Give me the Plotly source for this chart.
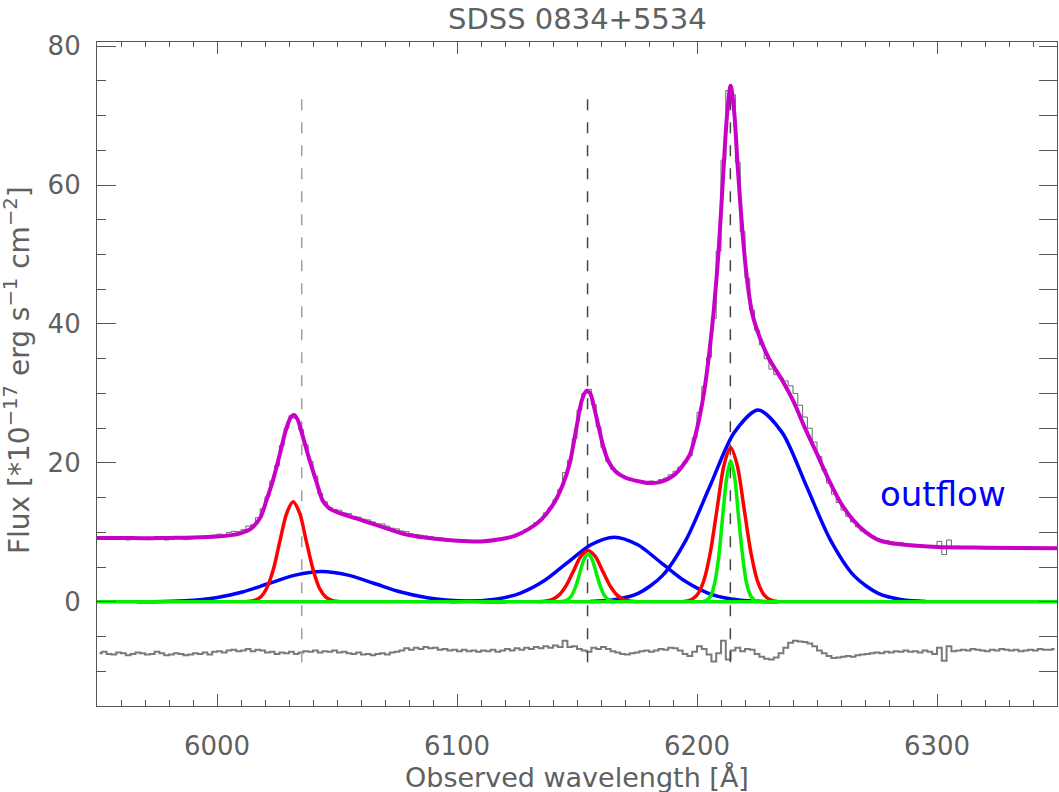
import plotly.graph_objects as go

# ---------------- data ----------------
wave_bins = [
    5951, 5953, 5955, 5957, 5959, 5961, 5963, 5965, 5967, 5969,
    5971, 5973, 5975, 5977, 5979, 5981, 5983, 5985, 5987, 5989,
    5991, 5993, 5995, 5997, 5999, 6001, 6003, 6005, 6007, 6009,
    6011, 6013, 6015, 6017, 6019, 6021, 6023, 6025, 6027, 6029,
    6031, 6033, 6035, 6037, 6039, 6041, 6043, 6045, 6047, 6049,
    6051, 6053, 6055, 6057, 6059, 6061, 6063, 6065, 6067, 6069,
    6071, 6073, 6075, 6077, 6079, 6081, 6083, 6085, 6087, 6089,
    6091, 6093, 6095, 6097, 6099, 6101, 6103, 6105, 6107, 6109,
    6111, 6113, 6115, 6117, 6119, 6121, 6123, 6125, 6127, 6129,
    6131, 6133, 6135, 6137, 6139, 6141, 6143, 6145, 6147, 6149,
    6151, 6153, 6155, 6157, 6159, 6161, 6163, 6165, 6167, 6169,
    6171, 6173, 6175, 6177, 6179, 6181, 6183, 6185, 6187, 6189,
    6191, 6193, 6195, 6197, 6199, 6201, 6203, 6205, 6207, 6209,
    6211, 6213, 6215, 6217, 6219, 6221, 6223, 6225, 6227, 6229,
    6231, 6233, 6235, 6237, 6239, 6241, 6243, 6245, 6247, 6249,
    6251, 6253, 6255, 6257, 6259, 6261, 6263, 6265, 6267, 6269,
    6271, 6273, 6275, 6277, 6279, 6281, 6283, 6285, 6287, 6289,
    6291, 6293, 6295, 6297, 6299, 6301, 6303, 6305, 6307, 6309,
    6311, 6313, 6315, 6317, 6319, 6321, 6323, 6325, 6327, 6329,
    6331, 6333, 6335, 6337, 6339, 6341, 6343, 6345, 6347, 6349,
]

observed_flux = [
    9.2, 9.4, 9.1, 9.0, 9.3, 9.2, 8.9, 9.1, 9.3, 9.15,
    8.95, 9.05, 9.4, 9.2, 8.9, 9.0, 9.2, 9.1, 8.95, 9.05,
    9.25, 9.2, 9.4, 9.15, 9.6, 9.75, 9.6, 10.0, 10.15, 10.1,
    10.4, 10.9, 11.1, 12.1, 13.4, 15.1, 17.4, 19.6, 22.5, 25.0,
    26.8, 26.4, 24.8, 22.6, 20.2, 18.1, 15.6, 14.4, 13.6, 13.3,
    13.2, 12.8, 12.7, 12.3, 12.2, 11.9, 11.8, 11.5, 11.2, 11.2,
    10.9, 10.6, 10.5, 10.2, 10.1, 9.8, 9.7, 9.6, 9.5, 9.4,
    9.2, 9.2, 9.0, 8.9, 8.9, 8.8, 8.7, 8.8, 8.6, 8.7,
    8.6, 8.7, 8.7, 8.9, 9.1, 9.3, 9.4, 9.7, 10.0, 10.4,
    10.8, 11.4, 11.8, 12.8, 13.6, 14.7, 16.2, 18.6, 20.4, 23.5,
    27.6, 30.0, 30.6, 28.4, 25.2, 22.2, 20.2, 19.1, 18.5, 18.1,
    17.7, 17.5, 17.3, 17.4, 17.3, 17.4, 17.3, 17.6, 17.8, 18.3,
    18.8, 19.4, 20.1, 21.0, 23.6, 27.3, 31.0, 35.2, 40.8, 50.5,
    63.6, 73.6, 73.0, 63.3, 53.3, 46.6, 42.0, 39.1, 37.0, 35.0,
    33.5, 32.7, 32.2, 31.8, 31.1, 30.0, 28.3, 26.6, 25.0, 23.0,
    20.9, 19.0, 17.1, 15.5, 14.3, 13.2, 12.3, 11.5, 10.8, 10.2,
    9.8, 9.4, 9.1, 8.8, 8.8, 8.5, 8.4, 8.5, 8.2, 8.3,
    8.1, 8.2, 7.9, 8.0, 7.8, 8.7, 6.8, 8.9, 7.9, 8.0,
    7.9, 7.8, 7.9, 7.8, 7.8, 7.9, 7.7, 7.8, 7.9, 7.8,
    7.7, 7.8, 7.7, 7.8, 7.7, 7.8, 7.7, 7.8, 7.7, 7.8,
]

residual_flux = [
    -7.4, -7.2, -7.5, -7.6, -7.3, -7.4, -7.7, -7.5, -7.3, -7.4,
    -7.6, -7.5, -7.2, -7.4, -7.7, -7.6, -7.4, -7.5, -7.7, -7.6,
    -7.4, -7.5, -7.3, -7.6, -7.2, -7.1, -7.3, -7.0, -6.9, -7.1,
    -7.0, -6.8, -7.1, -6.9, -7.0, -7.3, -7.2, -7.5, -7.3, -7.4,
    -7.2, -7.5, -7.3, -7.1, -7.2, -7.0, -7.3, -7.1, -7.2, -7.0,
    -7.3, -7.2, -7.4, -7.5, -7.3, -7.6, -7.5, -7.7, -7.5, -7.4,
    -7.6, -7.3, -7.2, -7.0, -6.7, -6.9, -6.6, -6.8, -6.5, -6.7,
    -6.6, -6.9, -6.8, -7.0, -6.9, -7.1, -6.9, -7.1, -7.0, -7.2,
    -7.0, -7.1, -6.9, -7.2, -7.0, -6.8, -7.0, -6.7, -6.9, -6.6,
    -6.8, -6.5, -6.7, -6.4, -6.6, -6.3, -6.5, -5.6, -6.5, -6.4,
    -6.8, -7.0, -7.2, -6.6, -6.8, -6.5, -6.8, -7.1, -7.3, -7.5,
    -7.6, -7.4, -7.3, -7.1, -7.0, -7.2, -7.0, -6.8, -6.9, -6.6,
    -6.7, -7.0, -7.5, -7.8, -7.2, -6.4, -6.8, -7.6, -8.6, -7.4,
    -5.6, -8.3, -7.0, -6.6, -7.1, -6.8, -6.9, -7.5, -7.9, -8.2,
    -8.3, -8.0, -7.4, -6.6, -5.9, -5.6, -5.7, -5.8, -6.0, -6.4,
    -7.0, -7.4, -7.8, -8.1, -8.0, -7.9, -7.8, -7.9, -7.7, -7.6,
    -7.5, -7.4, -7.3, -7.4, -7.2, -7.3, -7.1, -7.2, -7.0, -7.2,
    -7.1, -7.3, -7.0, -7.2, -7.5, -6.6, -8.5, -6.4, -7.1, -7.0,
    -6.9, -7.0, -6.8, -6.9, -7.0, -7.1, -6.9, -7.0, -6.8, -6.9,
    -7.0, -6.9, -7.1, -7.0, -6.9, -7.0, -6.8, -6.9, -6.9, -6.8,
]

model_wave = [
    5950, 5960, 5970, 5980, 5990, 6000, 6006, 6010, 6014, 6018,
    6020.7, 6023.4, 6026, 6028.5, 6030.5, 6032, 6033.5, 6036, 6038.5, 6041.5,
    6044, 6047, 6050, 6058, 6066, 6073, 6080, 6090, 6100, 6110,
    6118, 6124, 6130, 6135, 6140, 6144, 6147, 6150, 6152, 6154,
    6155.5, 6157, 6159, 6161, 6163, 6166, 6170, 6175, 6180, 6184,
    6188, 6191, 6194, 6197, 6199, 6201, 6203, 6205, 6207, 6209,
    6211, 6212.5, 6214, 6215.5, 6217, 6219, 6221, 6223, 6226, 6230,
    6235, 6240, 6245, 6250, 6255, 6260, 6265, 6270, 6275, 6280,
    6290, 6300, 6320, 6350,
]
model_flux = [
    9.2, 9.2, 9.15, 9.2, 9.25, 9.4, 9.6, 9.9, 10.5, 12.1,
    14.7, 17.6, 21.0, 24.5, 26.4, 26.9, 26.3, 23.5, 20.5, 17.2,
    14.6, 13.4, 12.9, 12.0, 11.1, 10.3, 9.6, 9.1, 8.8, 8.7,
    9.0, 9.5, 10.5, 11.8, 14.0, 16.8, 20.0, 25.5, 29.0, 30.4,
    30.0, 28.2, 25.2, 22.3, 20.3, 18.8, 17.9, 17.4, 17.1, 17.2,
    17.7, 18.4, 19.6, 21.2, 23.5, 26.5, 30.3, 35.5, 42.0, 50.5,
    62.0, 70.0, 74.3, 70.5, 62.5, 53.0, 46.0, 41.5, 38.2, 35.0,
    32.2, 29.0, 25.0, 21.3, 17.5, 14.2, 11.8, 10.1, 9.0, 8.5,
    8.1, 7.9, 7.8, 7.7,
]

# outflow (broad, blue) components
blue1_wave = [5966.6, 5977.6, 5988.6, 5999.6, 6010.6, 6021.6, 6032.6, 6043.6,
              6054.6, 6065.6, 6076.6, 6087.6, 6098.6, 6109.6, 6120.6]
blue1_flux = [0.01, 0.05, 0.19, 0.59, 1.41, 2.64, 3.84, 4.35,
              3.84, 2.64, 1.41, 0.59, 0.19, 0.05, 0.01]
blue2_wave = [6097.3, 6107.0, 6116.8, 6126.5, 6136.3, 6146.0, 6155.8, 6165.5,
              6175.3, 6185.0, 6194.8, 6204.5, 6214.3, 6224.0, 6233.8]
blue2_flux = [0.02, 0.10, 0.41, 1.26, 3.02, 5.64, 8.21, 9.3,
              8.21, 5.64, 3.02, 1.26, 0.41, 0.10, 0.02]
blue3_wave = [6155.5, 6165.5, 6175.5, 6185.5, 6195.5, 6205.5, 6215.5, 6225.5,
              6235.5, 6245.5, 6255.5, 6265.5, 6275.5, 6285.5, 6295.5]
blue3_flux = [0.06, 0.31, 1.21, 3.73, 8.96, 16.74, 24.36, 27.6,
              24.36, 16.74, 8.96, 3.73, 1.21, 0.31, 0.06]

# narrow (red) components
red1_wave = [6012.5, 6015.2, 6018.0, 6020.7, 6023.5, 6026.2, 6029.0, 6031.7,
             6034.5, 6037.2, 6040.0, 6042.7, 6045.5, 6048.2, 6051.0]
red1_flux = [0.03, 0.16, 0.63, 1.95, 4.68, 8.73, 12.71, 14.4,
             12.71, 8.73, 4.68, 1.95, 0.63, 0.16, 0.03]
red2_wave = [6133.6, 6136.6, 6139.6, 6142.6, 6145.6, 6148.6, 6151.6, 6154.6,
             6157.6, 6160.6, 6163.6, 6166.6, 6169.6, 6172.6, 6175.6]
red2_flux = [0.02, 0.08, 0.32, 1.00, 2.40, 4.49, 6.53, 7.4,
             6.53, 4.49, 2.40, 1.00, 0.32, 0.08, 0.02]
red3_wave = [6194.4, 6197.2, 6200.0, 6202.8, 6205.6, 6208.4, 6211.2, 6214.0,
             6216.8, 6219.6, 6222.4, 6225.2, 6228.0, 6230.8, 6233.6]
red3_flux = [0.05, 0.25, 0.97, 3.00, 7.21, 13.46, 19.59, 22.2,
             19.59, 13.46, 7.21, 3.00, 0.97, 0.25, 0.05]

# narrowest (green) components
green2_wave = [6142.7, 6144.4, 6146.1, 6147.8, 6149.5, 6151.2, 6152.9, 6154.6,
               6156.3, 6158.0, 6159.7, 6161.4, 6163.1, 6164.8, 6166.5]
green2_flux = [0.02, 0.08, 0.30, 0.93, 2.24, 4.18, 6.09, 6.9,
               6.09, 4.18, 2.24, 0.93, 0.30, 0.08, 0.02]
green3_wave = [6202.5, 6204.1, 6205.8, 6207.4, 6209.1, 6210.7, 6212.4, 6214.0,
               6215.7, 6217.3, 6219.0, 6220.6, 6222.3, 6223.9, 6225.6]
green3_flux = [0.04, 0.23, 0.89, 2.75, 6.59, 12.31, 17.91, 20.3,
               17.91, 12.31, 6.59, 2.75, 0.89, 0.23, 0.04]
zero_wave = [5950, 6350]
zero_flux = [0, 0]

line_wave = [6035.3, 6154.4, 6213.9]
line_span = [-8.7, 73.3]

x_range = [5950, 6350]
y_range = [-15, 80.6]
x_tickvals = [6000, 6100, 6200, 6300]
y_tickvals = [0, 20, 40, 60, 80]

title_text = "SDSS 0834+5534"
x_title = "Observed wavelength [Å]"
y_title = "Flux [*10<sup>−17</sup> erg s<sup>−1</sup> cm<sup>−2</sup>]"
label_text = "outflow"
label_pos = (6302.5, 15.5)

# ---------------- styling ----------------
FONT = "DejaVu Sans"
TXT = "#606060"
AX = "#555555"

fig = go.Figure()

fig.add_trace(go.Scatter(x=wave_bins, y=observed_flux, mode="lines",
                         line=dict(shape="hvh", color="#666666", width=1)))
fig.add_trace(go.Scatter(x=wave_bins, y=residual_flux, mode="lines",
                         line=dict(shape="hvh", color="#7a7a7a", width=2)))

dash_colors = ["#a0a0a0", "#444444", "#444444"]
for lw, col in zip(line_wave, dash_colors):
    fig.add_trace(go.Scatter(x=[lw, lw], y=line_span, mode="lines",
                             line=dict(color=col, width=1.5, dash="11px,12px")))

fig.add_trace(go.Scatter(x=model_wave, y=model_flux, mode="lines",
                         line=dict(shape="spline", smoothing=0.8, color="#c800c8", width=4)))

for wx, fy in [(blue1_wave, blue1_flux), (blue2_wave, blue2_flux), (blue3_wave, blue3_flux)]:
    fig.add_trace(go.Scatter(x=wx, y=fy, mode="lines",
                             line=dict(shape="spline", smoothing=0.8, color="#0000ff", width=3.5)))
for wx, fy in [(red1_wave, red1_flux), (red2_wave, red2_flux), (red3_wave, red3_flux)]:
    fig.add_trace(go.Scatter(x=wx, y=fy, mode="lines",
                             line=dict(shape="spline", smoothing=0.8, color="#ff0000", width=3.5)))
for wx, fy in [(green2_wave, green2_flux), (green3_wave, green3_flux), (zero_wave, zero_flux)]:
    fig.add_trace(go.Scatter(x=wx, y=fy, mode="lines",
                             line=dict(shape="spline", smoothing=0.8, color="#00f000", width=3.5)))

fig.add_annotation(x=label_pos[0], y=label_pos[1], xref="x", yref="y", text=label_text,
                   showarrow=False, font=dict(family="DejaVu Sans", size=34, color="#0000ff"))

common = dict(showline=True, linecolor=AX, linewidth=1.2, ticks="inside", tickcolor=AX,
              showgrid=False, zeroline=False)

fig.update_layout(
    width=1059, height=792,
    margin=dict(l=97, r=2, t=42, b=86),
    paper_bgcolor="white", plot_bgcolor="white",
    showlegend=False,
    xaxis=dict(range=x_range, tickvals=x_tickvals, ticklen=12, tickwidth=1.2,
               minor=dict(dtick=10, tick0=5950, ticklen=6, ticks="inside", tickcolor=AX),
               tickfont=dict(family=FONT, size=26, color=TXT), ticklabelstandoff=17,
               **common),
    xaxis2=dict(range=x_range, overlaying="x", side="top", anchor="y", tickvals=x_tickvals,
                ticklen=12, tickwidth=1.2, showticklabels=False,
                minor=dict(dtick=10, tick0=5950, ticklen=5, ticks="inside", tickcolor=AX),
                **common),
    yaxis=dict(range=y_range, tickvals=y_tickvals, ticklen=19, tickwidth=1.2,
               minor=dict(dtick=5, tick0=0, ticklen=9, ticks="inside", tickcolor=AX),
               tickfont=dict(family=FONT, size=26, color=TXT), ticklabelstandoff=10,
               **common),
    yaxis2=dict(range=y_range, overlaying="y", side="right", anchor="x", tickvals=y_tickvals,
                ticklen=18, tickwidth=1.2, showticklabels=False,
                minor=dict(dtick=5, tick0=0, ticklen=18, ticks="inside", tickcolor=AX),
                **common),
)

# invisible trace to activate secondary axes
fig.add_trace(go.Scatter(x=[x_range[0]], y=[y_range[0]], xaxis="x2", yaxis="y2",
                         mode="markers", marker=dict(opacity=0), hoverinfo="skip"))

fig.add_annotation(text=title_text, xref="paper", yref="paper", x=0.5, y=1 + 23 / 664,
                   showarrow=False, yanchor="middle",
                   font=dict(family=FONT, size=29, color=TXT))
fig.add_annotation(text=x_title, xref="paper", yref="paper", x=0.5, y=-71 / 664,
                   showarrow=False, yanchor="middle",
                   font=dict(family=FONT, size=27, color=TXT))
fig.add_annotation(text=y_title, xref="paper", yref="paper", x=-80 / 960, y=0.506,
                   showarrow=False, textangle=-90, xanchor="center", yanchor="middle",
                   font=dict(family=FONT, size=28, color=TXT))

fig.write_html("out.html")
